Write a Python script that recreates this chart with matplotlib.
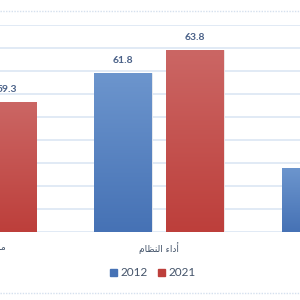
import matplotlib
matplotlib.use("Agg")
import matplotlib.pyplot as plt
import numpy as np
from matplotlib.lines import Line2D
from matplotlib.colors import LinearSegmentedColormap

# ---- data ----
# Arabic labels pre-shaped (presentation forms, visual order) since matplotlib has no bidi shaping
categories = [
    "\uFE95\uFE8E\uFEE3\uFEEE\uFEE0\uFECC\uFEE4\uFEDF\uFE8D \uFE94\uFEF4\uFED7\uFEEE\uFE9B\uFEEE\uFEE3",  # موثوقية المعلومات
    "\uFEE1\uFE8E\uFEC8\uFEE8\uFEDF\uFE8D \uFE80\uFE8D\uFEA9\uFE83",  # أداء النظام
    "\uFE94\uFEE3\uFEAA\uFEA8\uFEDF\uFE8D \uFE93\uFEA9\uFEEE\uFE9F",  # جودة الخدمة
]
series_names = ["2012", "2021"]
values_2012 = [57.0, 61.8, 53.5]
values_2021 = [59.3, 63.8, 55.0]
y_ticks = [48, 50, 52, 54, 56, 58, 60, 62, 64, 66]

blue_top, blue_bot = "#6C95CD", "#4672B5"
red_top, red_bot = "#CB6664", "#BD3F3B"
label_color = "#4A6188"
text_color = "#44546A"
grid_color = "#D9E4F2"

fig = plt.figure(figsize=(3, 3), dpi=100)
ax = fig.add_axes([0, 68 / 300, 1, 207 / 300])

x = np.arange(len(categories))
offset = 0.1915
width = 0.3085

b1 = ax.bar(x - offset, values_2012, width, color=blue_bot, label=series_names[0], zorder=2)
b2 = ax.bar(x + offset, values_2021, width, color=red_bot, label=series_names[1], zorder=2)

# gradient fill over each bar
for bars, top, bot in [(b1, blue_top, blue_bot), (b2, red_top, red_bot)]:
    cmap = LinearSegmentedColormap.from_list("g", [bot, top])
    for p in bars:
        x0, y0 = p.get_x(), p.get_y()
        w, h = p.get_width(), p.get_height()
        grad = np.linspace(0, 1, 100).reshape(-1, 1)
        ax.imshow(grad, cmap=cmap, origin="lower", aspect="auto",
                  extent=[x0, x0 + w, y_ticks[0], y0 + h], zorder=2.5)
        p.set_edgecolor("#F2F2F2")
        p.set_linewidth(0.6)

for bars in (b1, b2):
    for p in bars:
        ax.annotate(f"{p.get_height():.1f}",
                    (p.get_x() + p.get_width() / 2, p.get_height()),
                    xytext=(0, 6), textcoords="offset points",
                    ha="center", va="bottom", fontsize=7.5, fontweight="bold",
                    color=label_color, family="Lato", annotation_clip=False, zorder=4)

ax.set_yticks(y_ticks)
ax.yaxis.grid(True, color=grid_color, linewidth=1.1, zorder=0)
ax.set_axisbelow(True)
ax.tick_params(axis="y", left=False, labelleft=False)
ax.set_xticks([])
for s in ax.spines.values():
    s.set_visible(False)

# category labels (drawn as annotations so partially visible ones still render)
for xi, cat in zip(x, categories):
    ax.annotate(cat, (xi, 0), xycoords=("data", "axes fraction"),
                xytext=(0, -7), textcoords="offset points",
                ha="center", va="top", fontsize=6.5, color=text_color,
                family="DejaVu Sans", annotation_clip=False)

ax.set_xlim(0.154, 1.75)
ax.set_ylim(y_ticks[0], y_ticks[-1])

handles = [plt.Rectangle((0, 0), 1, 1, color=blue_bot), plt.Rectangle((0, 0), 1, 1, color=red_bot)]
leg = fig.legend(handles, series_names, loc="center", bbox_to_anchor=(0.51, 0.09), ncol=2,
                 frameon=False, handlelength=0.55, handleheight=0.55, handletextpad=0.3,
                 columnspacing=0.9, prop={"family": "Lato", "size": 8.5})
for t in leg.get_texts():
    t.set_color(text_color)

# chart border (dotted, light)
for yy in (1 - 10.5 / 300, 1 - 292.5 / 300):
    fig.add_artist(Line2D([0, 1], [yy, yy], transform=fig.transFigure,
                          color="#D5E0EE", linewidth=1.0, linestyle=(0, (1, 1))))

fig.savefig("out.png", dpi=100, facecolor="white")
